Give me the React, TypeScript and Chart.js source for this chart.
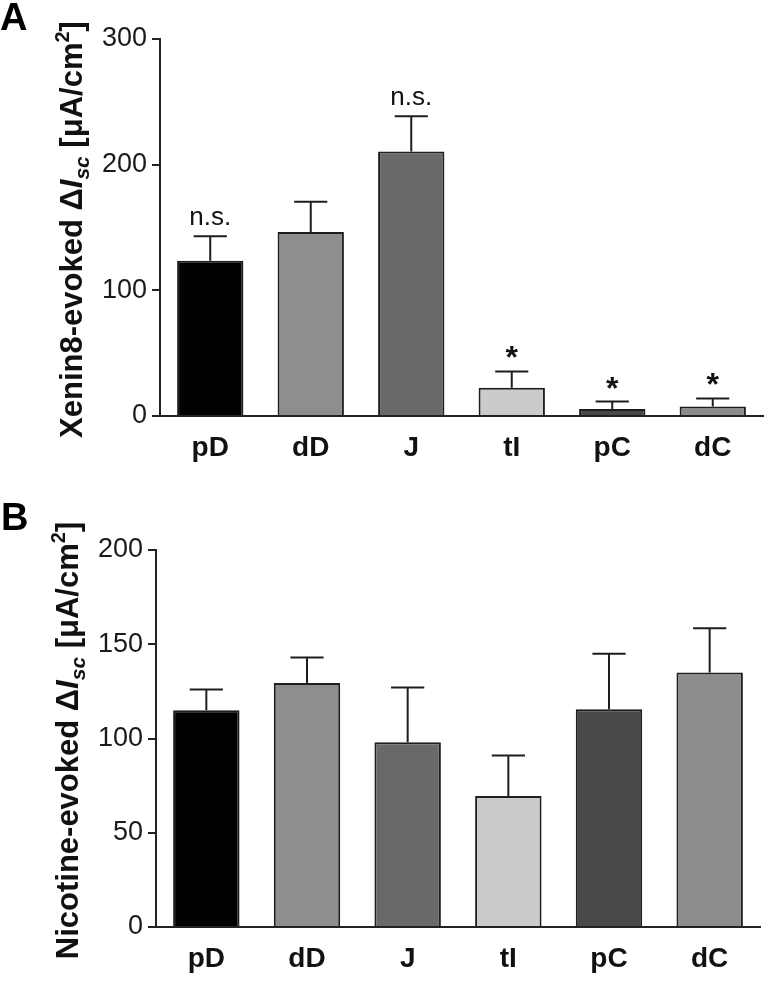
import React, { useEffect, useRef } from "react";
import { Chart, registerables } from "chart.js";

Chart.register(...registerables);

const categories = ["pD", "dD", "J", "tI", "pC", "dC"];
const barColors = ["#000000", "#8e8e8e", "#696969", "#cbcbcb", "#494949", "#8c8c8c"];

const xeninMeans = [123.5, 146.5, 210.5, 22.5, 5.5, 7.5];
const xeninSem = [19.5, 24, 28, 13, 6, 6.5];
const xeninMarks = ["n.s.", "", "n.s.", "*", "*", "*"];
const xeninMax = 300;
const xeninStep = 100;

const nicotineMeans = [115, 129.5, 98, 69.5, 115.5, 135];
const nicotineSem = [11, 13.5, 29, 21.5, 29.5, 23.5];
const nicotineMarks = ["", "", "", "", "", ""];
const nicotineMax = 200;
const nicotineStep = 50;

const FONT = "Arial, 'Liberation Sans', Helvetica, sans-serif";

type Part = { t: string; style: string; size: number; dy: number };

function titleParts(prefix: string): Part[] {
  return [
    { t: prefix + " \u0394", style: "bold", size: 31, dy: 0 },
    { t: "I", style: "italic bold", size: 31, dy: 0 },
    { t: "sc", style: "italic bold", size: 21, dy: 7 },
    { t: " [\u03bcA/cm", style: "bold", size: 31, dy: 0 },
    { t: "2", style: "bold", size: 20, dy: -13 },
    { t: "]", style: "bold", size: 31, dy: 0 },
  ];
}

type PanelProps = {
  top: number;
  height: number;
  letter: string;
  letterX: number;
  letterBase: number;
  titlePrefix: string;
  titleX: number;
  means: number[];
  sem: number[];
  marks: string[];
  yMax: number;
  step: number;
  axisX: number;
  padTop: number;
  padRight: number;
  xAxisH: number;
};

function Panel(p: PanelProps) {
  const ref = useRef<HTMLCanvasElement | null>(null);
  useEffect(() => {
    if (!ref.current) return;
    const overlay = {
      id: "overlay",
      afterDatasetsDraw(chart: any) {
        const ctx = chart.ctx as CanvasRenderingContext2D;
        const ys = chart.scales.y;
        const meta = chart.getDatasetMeta(0);
        ctx.save();
        ctx.strokeStyle = "#1e1e1e";
        ctx.lineWidth = 2;
        meta.data.forEach((bar: any, i: number) => {
          const x = bar.x;
          const w = bar.width;
          const topPx = ys.getPixelForValue(p.means[i]);
          const et = ys.getPixelForValue(p.means[i] + p.sem[i]);
          ctx.beginPath();
          ctx.moveTo(x, topPx);
          ctx.lineTo(x, et);
          ctx.moveTo(x - w / 4, et);
          ctx.lineTo(x + w / 4, et);
          ctx.stroke();
          const m = p.marks[i];
          if (m) {
            ctx.fillStyle = "#111";
            ctx.textAlign = "center";
            ctx.textBaseline = "alphabetic";
            if (m === "*") {
              ctx.font = `bold 32px ${FONT}`;
              ctx.fillText(m, x, et - 3);
            } else {
              ctx.font = `26px ${FONT}`;
              ctx.fillText(m, x, et - 11);
            }
          }
        });
        // y-axis title
        const parts = titleParts(p.titlePrefix);
        let total = 0;
        parts.forEach((pt) => {
          ctx.font = `${pt.style} ${pt.size}px ${FONT}`;
          total += ctx.measureText(pt.t).width;
        });
        const ca = chart.chartArea;
        const cy = (ca.top + ca.bottom) / 2 + 2;
        ctx.translate(p.titleX, cy);
        ctx.rotate(-Math.PI / 2);
        ctx.fillStyle = "#111";
        ctx.textAlign = "left";
        ctx.textBaseline = "alphabetic";
        let cx = -total / 2;
        parts.forEach((pt) => {
          ctx.font = `${pt.style} ${pt.size}px ${FONT}`;
          ctx.fillText(pt.t, cx, pt.dy);
          cx += ctx.measureText(pt.t).width;
        });
        ctx.setTransform(1, 0, 0, 1, 0, 0);
        // panel letter
        ctx.font = `bold 38px ${FONT}`;
        ctx.fillStyle = "#000";
        ctx.fillText(p.letter, p.letterX, p.letterBase);
        ctx.restore();
      },
    };
    const chart = new Chart(ref.current, {
      type: "bar",
      data: {
        labels: categories,
        datasets: [
          {
            data: p.means,
            backgroundColor: barColors,
            borderColor: "#1e1e1e",
            borderWidth: 2,
            barPercentage: 0.66,
            categoryPercentage: 1,
          },
        ],
      },
      options: {
        animation: false,
        responsive: false,
        maintainAspectRatio: false,
        layout: { padding: { top: p.padTop, right: p.padRight, left: 0, bottom: 0 } },
        plugins: {
          legend: { display: false },
          tooltip: { enabled: false },
          title: { display: false },
        },
        scales: {
          x: {
            grid: { display: false, drawTicks: false },
            border: { display: true, color: "#222", width: 2 },
            ticks: {
              color: "#111",
              font: { family: FONT, size: 28, weight: "bold" },
              padding: 15,
            },
            afterFit: (s: any) => {
              s.height = p.xAxisH;
            },
          },
          y: {
            min: 0,
            max: p.yMax,
            ticks: {
              stepSize: p.step,
              color: "#1a1a1a",
              font: { family: FONT, size: 27 },
              padding: 5,
            },
            grid: {
              display: true,
              drawOnChartArea: false,
              drawTicks: true,
              tickLength: 8,
              color: "#222",
              lineWidth: 2,
            },
            border: { display: true, color: "#222", width: 2 },
            afterFit: (s: any) => {
              s.width = p.axisX;
            },
          },
        },
      } as any,
      plugins: [overlay],
    });
    return () => chart.destroy();
  }, []);
  return (
    <canvas
      ref={ref}
      width={773}
      height={p.height}
      style={{ position: "absolute", left: 0, top: p.top, width: 773, height: p.height, display: "block" }}
    />
  );
}

export default function App() {
  return (
    <div style={{ position: "absolute", left: 0, top: 0, width: 773, height: 982, background: "#fff" }}>
      <Panel
        top={0}
        height={480}
        letter="A"
        letterX={0}
        letterBase={30}
        titlePrefix="Xenin8-evoked"
        titleX={82}
        means={xeninMeans}
        sem={xeninSem}
        marks={xeninMarks}
        yMax={xeninMax}
        step={xeninStep}
        axisX={160}
        padTop={39}
        padRight={10}
        xAxisH={64}
      />
      <Panel
        top={480}
        height={502}
        letter="B"
        letterX={1}
        letterBase={50}
        titlePrefix="Nicotine-evoked"
        titleX={78}
        means={nicotineMeans}
        sem={nicotineSem}
        marks={nicotineMarks}
        yMax={nicotineMax}
        step={nicotineStep}
        axisX={156}
        padTop={70}
        padRight={13}
        xAxisH={55}
      />
    </div>
  );
}
